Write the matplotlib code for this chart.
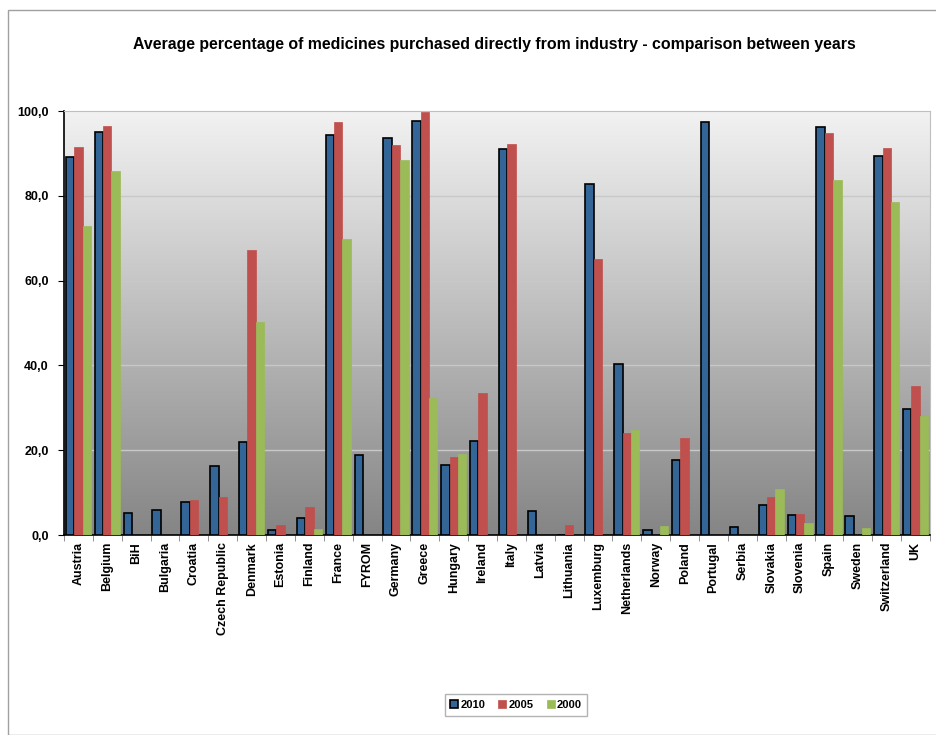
import numpy as np
import matplotlib.pyplot as plt
from matplotlib.patches import Rectangle
from matplotlib.colors import LinearSegmentedColormap

plt.rcParams['font.family'] = ['Liberation Sans', 'DejaVu Sans']

"DATA"
countries = ["Austria", "Belgium", "BiH", "Bulgaria", "Croatia", "Czech Republic",
             "Denmark", "Estonia", "Finland", "France", "FYROM", "Germany", "Greece",
             "Hungary", "Ireland", "Italy", "Latvia", "Lithuania", "Luxemburg",
             "Netherlands", "Norway", "Poland", "Portugal", "Serbia", "Slovakia",
             "Slovenia", "Spain", "Sweden", "Switzerland", "UK"]
y2010 = [89.2, 95.0, 5.1, 5.8, 7.8, 16.2, 21.9, 1.2, 3.9, 94.3, 18.9, 93.6, 97.7,
         16.5, 22.2, 91.0, 5.6, 0, 82.9, 40.4, 1.2, 17.6, 97.3, 2.0, 7.1, 4.8,
         96.3, 4.5, 89.5, 29.8]
y2005 = [91.5, 96.5, 0, 0, 8.3, 8.9, 67.1, 2.4, 6.7, 97.4, 0, 91.9, 99.8,
         18.5, 33.5, 92.1, 0, 2.4, 65.0, 24.1, 0, 22.9, 0, 0, 9.0, 4.9,
         94.9, 0, 91.3, 35.2]
y2000 = [72.9, 85.9, 0, 0, 0, 0, 50.2, 0, 1.3, 69.7, 0, 88.4, 32.4,
         19.1, 0, 0, 0, 0, 0, 24.8, 2.2, 0, 0, 0, 10.9, 2.9,
         83.7, 1.6, 78.5, 28.1]
years = ["2010", "2005", "2000"]

"PLOT"
fig = plt.figure(figsize=(9.37, 7.35), dpi=100)
fig.patches.append(Rectangle((8/937, 0), 1, 1 - 10/735, transform=fig.transFigure,
                             fill=False, edgecolor="#a0a0a0", lw=1))
ax = fig.add_axes([64/937, 1 - 535/735, 866/937, 424/735])

n = len(countries)
x = np.arange(n)
w = 0.29

# gradient background, light on top to mid gray at the bottom
grad = np.linspace(0, 1, 256).reshape(-1, 1)
cmap = LinearSegmentedColormap.from_list("g", ["#f2f2f2", "#858585"])
ax.imshow(grad, cmap=cmap, aspect="auto", extent=(-0.5, n - 0.5, 0, 100),
          origin="upper", zorder=0)

ax.bar(x - w, y2010, w, color="#336596", edgecolor="black", lw=1.2, label=years[0], zorder=3)
ax.bar(x, y2005, w, color="#C0504D", edgecolor="#C0504D", lw=0.5, label=years[1], zorder=3)
ax.bar(x + w, y2000, w, color="#9BBB59", edgecolor="#9BBB59", lw=0.5, label=years[2], zorder=3)

ax.set_xlim(-0.5, n - 0.5)
ax.set_ylim(0, 100)
ax.set_yticks(np.arange(0, 101, 20))
ax.set_yticklabels([f"{v},0" for v in range(0, 101, 20)], fontsize=9, fontweight="bold")
ax.set_xticks(x)
ax.set_xticklabels(countries, rotation=90, fontsize=9, fontweight="bold")
ax.tick_params(axis="x", length=0, pad=5)
ax.set_xticks(np.arange(-0.5, n, 1), minor=True)
ax.tick_params(axis="x", which="minor", length=4, color="#808080")
ax.tick_params(axis="y", length=4, direction="out", pad=7)
for v in range(20, 100, 20):
    ax.axhline(v, color="#c8c8c8", lw=1, zorder=1)
ax.spines["top"].set_color("#bfbfbf")
ax.spines["right"].set_color("#bfbfbf")
ax.spines["left"].set_linewidth(1.2)
ax.spines["bottom"].set_linewidth(1.2)

fig.text(494/937, 1 - 45/735, "Average percentage of medicines purchased directly from industry - comparison between years",
         ha="center", va="center", fontsize=11.4, fontweight="bold")

leg = fig.legend(loc="center", bbox_to_anchor=(516/937, 1 - 705/735), ncol=3,
                 prop={"weight": "bold", "size": 8}, handlelength=0.7, handleheight=0.7,
                 handletextpad=0.2, columnspacing=1.2, fancybox=False, borderpad=0.5)
leg.get_frame().set_edgecolor("#a0a0a0")
leg.get_frame().set_linewidth(1)

fig.savefig("out.png", dpi=100)
